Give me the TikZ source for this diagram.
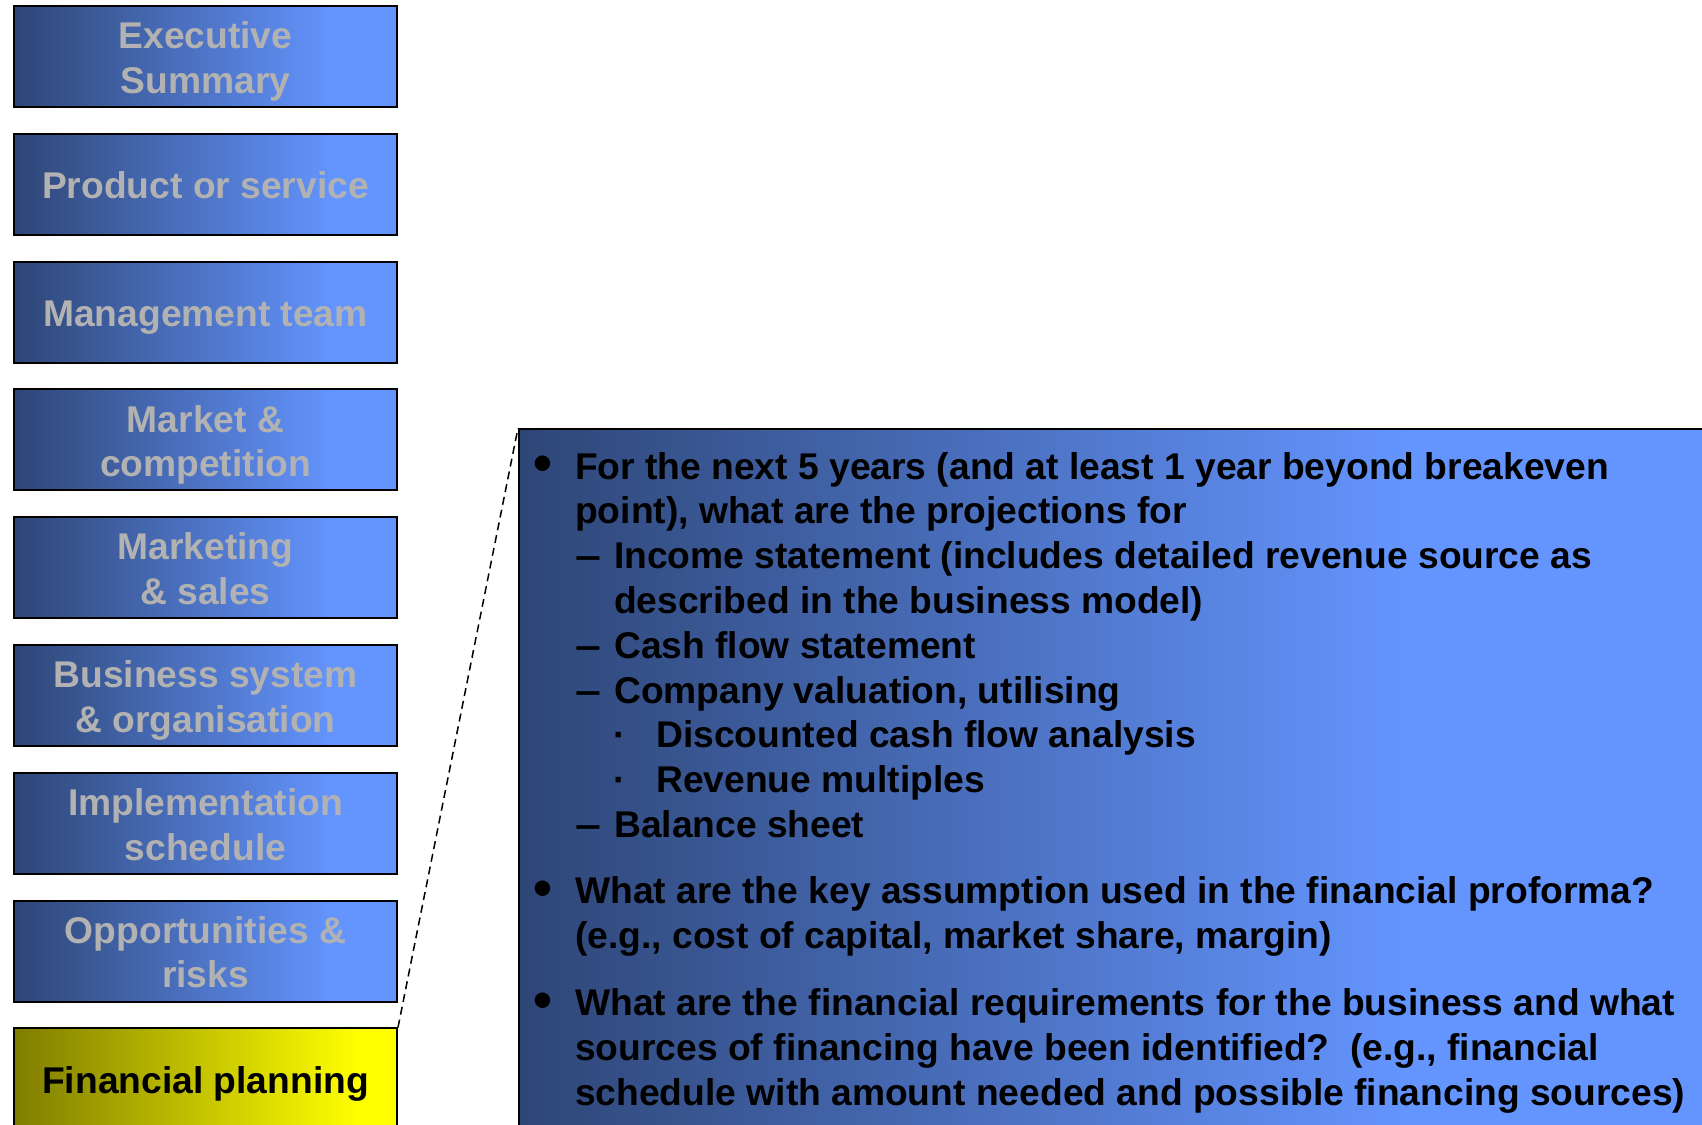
\documentclass[tikz,border=0pt]{standalone}
\usepackage{fontspec}
\usepackage{graphicx}
\setmainfont{Liberation Sans}
\definecolor{dk}{HTML}{2E4676}
\definecolor{lt}{HTML}{6495FF}
\definecolor{ydk}{HTML}{7F7D00}
\definecolor{ylt}{HTML}{FFFF00}
\definecolor{greytxt}{HTML}{B2B2B2}
\pgfdeclarehorizontalshading{secgrad}{100bp}{color(0bp)=(dk); color(25bp)=(dk); color(67bp)=(lt); color(100bp)=(lt)}
\pgfdeclarehorizontalshading{yelgrad}{100bp}{color(0bp)=(ydk); color(25bp)=(ydk); color(70bp)=(ylt); color(100bp)=(ylt)}
\pgfdeclarehorizontalshading{biggrad}{100bp}{color(0bp)=(dk); color(25bp)=(dk); color(62bp)=(lt); color(100bp)=(lt)}
\newcommand\secbody[1]{\parbox[t]{380pt}{\centering #1}}
\newcommand\bigbullet{\scalebox{1.45}{•}}
\newcommand\longdash{\scalebox{1.25}[1]{–}}
\begin{document}
\frenchspacing
\begin{tikzpicture}[x=1pt,y=-1pt,
  bigfont/.style={font=\fontsize{37.2}{44.5}\selectfont\bfseries},
  secbox/.style={draw=black, line width=2pt, shading=secgrad, minimum width=383pt,
    minimum height=101pt, inner sep=0pt, text=greytxt, bigfont,
    text height=36pt, text depth=7pt},
  tworow/.style={text depth=51.5pt},
  activebox/.style={secbox, shading=yelgrad, text=black},
  detailbox/.style={draw=black, line width=2pt, shading=biggrad, minimum width=1202pt,
    minimum height=712pt, inner sep=0pt, anchor=north west},
  ln/.style={anchor=base west, inner sep=0pt, bigfont, text=black},
  mark1/.style={anchor=base, inner sep=0pt, bigfont, text=black},
  zoomline/.style={draw=black, line width=1.5pt, dash pattern=on 8pt off 5pt}
]
\useasboundingbox (0,0) rectangle (1702,1124);
\clip (0,0) rectangle (1702,1124);

\node[secbox, tworow] (b1) at (205.5,56.5) {\secbody{Executive\\Summary}};
\node[secbox] (b2) at (205.5,184.3) {\secbody{Product or service}};
\node[secbox] (b3) at (205.5,312.1) {\secbody{Management team}};
\node[secbox, tworow] (b4) at (205.5,439.9) {\secbody{Market \&\\competition}};
\node[secbox, tworow] (b5) at (205.5,567.7) {\secbody{Marketing\\\& sales}};
\node[secbox, tworow] (b6) at (205.5,695.5) {\secbody{Business system\\\& organisation}};
\node[secbox, tworow] (b7) at (205.5,823.3) {\secbody{Implementation\\schedule}};
\node[secbox, tworow] (b8) at (205.5,951.1) {\secbody{Opportunities \&\\risks}};
\node[activebox] (b9) at (205.5,1078.9) {\secbody{Financial planning}};

\node[detailbox] (detail) at (518,428) {};
\draw[zoomline] (b9.north east) -- (detail.north west);

% bullets and markers
\node[mark1] (m1) at (543,481.5) {\bigbullet};
\node[mark1] (m3) at (588,568.6) {\longdash};
\node[mark1] (m5) at (588,658.2) {\longdash};
\node[mark1] (m6) at (588,703) {\longdash};
\node[mark1] (m7) at (620,747.8) {·};
\node[mark1] (m8) at (620,792.6) {·};
\node[mark1] (m9) at (588,837.4) {\longdash};
\node[mark1] (m10) at (543,906.1) {\bigbullet};
\node[mark1] (m12) at (543,1018.2) {\bigbullet};

% text lines
\node[ln] (l1) at (575,479) {For the next 5 years (and at least 1 year beyond breakeven};
\node[ln] (l2) at (575,523.8) {point), what are the projections for};
\node[ln] (l3) at (614,568.6) {Income statement (includes detailed revenue source as};
\node[ln] (l4) at (614,613.4) {described in the business model)};
\node[ln] (l5) at (614,658.2) {Cash flow statement};
\node[ln] (l6) at (614,703) {Company valuation, utilising};
\node[ln] (l7) at (656,747.8) {Discounted cash flow analysis};
\node[ln] (l8) at (656,792.6) {Revenue multiples};
\node[ln] (l9) at (614,837.4) {Balance sheet};
\node[ln] (l10) at (575,903.6) {What are the key assumption used in the financial proforma?};
\node[ln] (l11) at (575,948.4) {(e.g., cost of capital, market share, margin)};
\node[ln] (l12) at (575,1015.7) {What are the financial requirements for the business and what};
\node[ln] (l13) at (575,1060.5) {sources of financing have been identified?\ \ (e.g., financial};
\node[ln] (l14) at (575,1105.3) {schedule with amount needed and possible financing sources)};
\end{tikzpicture}
\end{document}
